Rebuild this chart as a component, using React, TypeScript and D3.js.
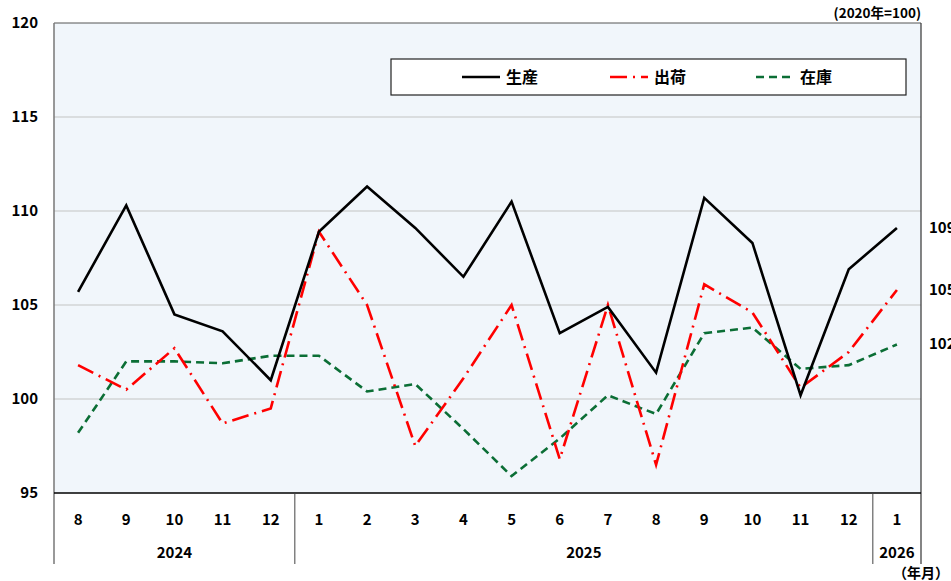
import React, { useRef, useEffect } from 'react';
import * as d3 from 'd3';

// months on the x axis (2024/8 .. 2026/1)
const months = ['8', '9', '10', '11', '12', '1', '2', '3', '4', '5', '6', '7', '8', '9', '10', '11', '12', '1'];
const years = [
  { label: '2024', start: 0, end: 5 },
  { label: '2025', start: 5, end: 17 },
  { label: '2026', start: 17, end: 18 },
];
const yTicks = [95, 100, 105, 110, 115, 120];

const production = [105.7, 110.3, 104.5, 103.6, 101.0, 108.9, 111.3, 109.1, 106.5, 110.5, 103.5, 104.9, 101.4, 110.7, 108.3, 100.2, 106.9, 109.1];
const shipments = [101.8, 100.5, 102.7, 98.7, 99.5, 108.9, 105.0, 97.5, 101.1, 105.0, 96.8, 105.0, 96.5, 106.1, 104.6, 100.6, 102.5, 105.8];
const inventory = [98.2, 102.0, 102.0, 101.9, 102.3, 102.3, 100.4, 100.8, 98.4, 95.9, 97.9, 100.2, 99.2, 103.5, 103.8, 101.6, 101.8, 102.9];

const seriesNames = ['生産', '出荷', '在庫'];

function App() {
  const canvas = useRef(null);

  useEffect(() => {
    const W = 951;
    const H = 581;
    const left = 54, right = 921, top = 23, bottom = 493;
    const font = '"Noto Sans CJK JP", "Noto Sans", sans-serif';

    d3.select(canvas.current).select('svg').remove();

    const svg = d3
      .select(canvas.current)
      .append('svg')
      .attr('width', W)
      .attr('height', H)
      .style('display', 'block')
      .style('font-family', font)
      .style('font-weight', 'bold');

    const idx = months.map((_, i) => i);
    const x = d3.scaleBand<number>().domain(idx).range([left, right]);
    const y = d3.scaleLinear().domain([95, 120]).range([bottom, top]);
    const cx = (i: number) => (x(i) as number) + x.bandwidth() / 2;

    // plot background
    svg.append('rect')
      .attr('x', left).attr('y', top)
      .attr('width', right - left).attr('height', bottom - top)
      .attr('fill', '#f1f6fb');

    // grid lines
    svg.append('g')
      .selectAll('line')
      .data(yTicks.filter(t => t > 95 && t < 120))
      .enter()
      .append('line')
      .attr('x1', left).attr('x2', right)
      .attr('y1', d => y(d)).attr('y2', d => y(d))
      .attr('stroke', '#c4c4c4').attr('stroke-width', 1.2);

    // frame
    svg.append('line').attr('x1', left).attr('x2', right).attr('y1', top).attr('y2', top)
      .attr('stroke', '#555').attr('stroke-width', 1);
    svg.append('line').attr('x1', left).attr('x2', left).attr('y1', top).attr('y2', 564)
      .attr('stroke', '#777').attr('stroke-width', 1.5);
    svg.append('line').attr('x1', right).attr('x2', right).attr('y1', top).attr('y2', 564)
      .attr('stroke', '#333').attr('stroke-width', 1.2);
    svg.append('line').attr('x1', left).attr('x2', right).attr('y1', bottom).attr('y2', bottom)
      .attr('stroke', '#000').attr('stroke-width', 1.5);

    // y tick labels
    svg.append('g')
      .selectAll('text')
      .data(yTicks)
      .enter()
      .append('text')
      .attr('x', 38)
      .attr('y', d => y(d) + 5)
      .attr('text-anchor', 'end')
      .attr('font-size', 15)
      .text(d => d);

    // month labels
    svg.append('g')
      .selectAll('text')
      .data(months)
      .enter()
      .append('text')
      .attr('x', (_, i) => cx(i))
      .attr('y', 525)
      .attr('text-anchor', 'middle')
      .attr('font-size', 15)
      .text(d => d);

    // year labels and separators
    years.forEach((yr, i) => {
      const x0 = x(yr.start) as number;
      const x1 = yr.end >= months.length ? right : (x(yr.end) as number);
      svg.append('text')
        .attr('x', (x0 + x1) / 2)
        .attr('y', 558)
        .attr('text-anchor', 'middle')
        .attr('font-size', 15)
        .text(yr.label);
      if (i > 0) {
        svg.append('line').attr('x1', x0).attr('x2', x0).attr('y1', bottom).attr('y2', 564)
          .attr('stroke', '#444').attr('stroke-width', 1);
      }
    });

    // lines
    const line = d3.line<number>().x((_, i) => cx(i)).y(d => y(d));
    const styles = [
      { data: production, color: '#000000', dash: null },
      { data: shipments, color: '#ff0000', dash: '17,6,2,6' },
      { data: inventory, color: '#0b6e35', dash: '8,5' },
    ];
    styles.slice().reverse().forEach(s => {
      svg.append('path')
        .datum(s.data)
        .attr('d', line)
        .attr('fill', 'none')
        .attr('stroke', s.color)
        .attr('stroke-width', 2.6)
        .attr('stroke-dasharray', s.dash);
    });

    // end value labels (cut off by the window edge, as in the source)
    styles.forEach(s => {
      const v = s.data[s.data.length - 1];
      svg.append('text')
        .attr('x', 929)
        .attr('y', y(v) + 5)
        .attr('font-size', 15)
        .text(v.toFixed(1));
    });

    // legend
    const lg = svg.append('g');
    lg.append('rect')
      .attr('x', 391).attr('y', 59).attr('width', 515).attr('height', 36)
      .attr('fill', '#fff').attr('stroke', '#222').attr('stroke-width', 1.2);
    const lx = [462, 610, 756];
    styles.forEach((s, i) => {
      lg.append('line')
        .attr('x1', lx[i]).attr('x2', lx[i] + 38)
        .attr('y1', 77).attr('y2', 77)
        .attr('stroke', s.color).attr('stroke-width', 2.6)
        .attr('stroke-dasharray', s.dash);
      lg.append('text')
        .attr('x', lx[i] + 44)
        .attr('y', 83)
        .attr('font-size', 16)
        .text(seriesNames[i]);
    });

    // unit notes
    svg.append('text')
      .attr('x', right).attr('y', 18)
      .attr('text-anchor', 'end')
      .attr('font-size', 13.5)
      .text('(2020年=100)');
    svg.append('text')
      .attr('x', 949).attr('y', 578)
      .attr('text-anchor', 'end')
      .attr('font-size', 14)
      .text('（年月）');
  }, []);

  return (
    <div ref={canvas} style={{ position: 'absolute', left: 0, top: 0, width: 951, height: 581, overflow: 'hidden' }}>
    </div>
  );
}

export default App;
